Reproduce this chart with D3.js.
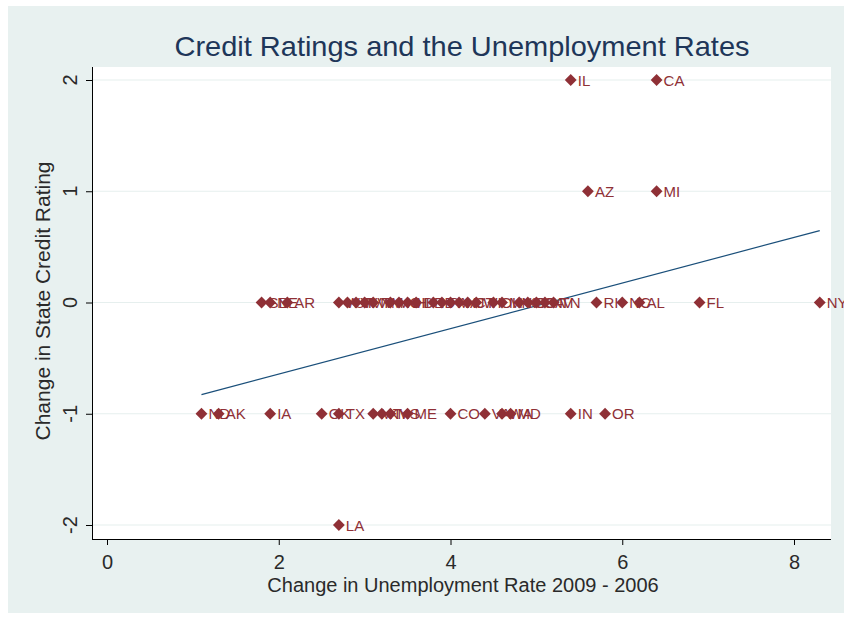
<!DOCTYPE html>
<html><head><meta charset="utf-8">
<script src="https://cdn.jsdelivr.net/npm/d3@7"></script>
<style>html,body{margin:0;padding:0;background:#fff;}svg{display:block;}</style>
</head><body>
<script>
// ---- data ----
const states = ["IL","CA","AZ","MI","LA",
  "ND","AK","IA","OK","TX","MT","KY","MS","ME","CO","VA","WA","MD","IN","OR",
  "SD","NE","AR","WY","UT","WV","VT","NM","MO","NH","HI","DE","ID","PA","MA","NJ","CT","WI","OH","MN","KS","SC","GA","NV","TN","RI","NC","AL","FL","NY"];
const unempChange = [5.4,6.4,5.6,6.4,2.7,
  1.1,1.3,1.9,2.5,2.7,3.1,3.2,3.3,3.5,4.0,4.4,4.6,4.7,5.4,5.8,
  1.8,1.9,2.1,2.7,2.8,2.9,3.0,3.1,3.3,3.4,3.5,3.6,3.8,3.9,4.0,4.1,4.2,4.3,4.5,4.6,4.8,4.9,5.0,5.1,5.2,5.7,6.0,6.2,6.9,8.3];
const ratingChange = [2,2,1,1,-2,
  -1,-1,-1,-1,-1,-1,-1,-1,-1,-1,-1,-1,-1,-1,-1,
  0,0,0,0,0,0,0,0,0,0,0,0,0,0,0,0,0,0,0,0,0,0,0,0,0,0,0,0,0,0];
const xTicks = [0,2,4,6,8];
const yTicks = [-2,-1,0,1,2];
const title = "Credit Ratings and the Unemployment Rates";
const xTitle = "Change in Unemployment Rate 2009 - 2006";
const yTitle = "Change in State Credit Rating";

const W = 844, H = 619;
const svg = d3.select("body").append("svg").attr("width", W).attr("height", H);
const font = "'Liberation Sans', Arial, sans-serif";
const maroon = "#8f3036";
const txt = "#2a2a2a";

svg.append("rect").attr("x", 8).attr("y", 6).attr("width", W - 8).attr("height", 607).attr("fill", "#e8f1f0");
const plotL = 92, plotR = 831, plotT = 67, plotB = 539;
svg.append("rect").attr("x", plotL).attr("y", plotT).attr("width", plotR - plotL).attr("height", plotB - plotT).attr("fill", "#fff");

const x = d3.scaleLinear().domain([0, 8]).range([107, 794]);
const y = d3.scaleLinear().domain([-2, 2]).range([525, 80]);

// grid
svg.append("g").selectAll("line").data(yTicks).join("line")
  .attr("x1", plotL).attr("x2", plotR).attr("y1", d => y(d)).attr("y2", d => y(d))
  .attr("stroke", "#e6efee").attr("stroke-width", 1.2);

// axes
const yAxis = svg.append("g").attr("transform", `translate(${plotL},0)`)
  .call(d3.axisLeft(y).tickValues(yTicks).tickSize(6).tickFormat(() => ""));
yAxis.select(".domain").attr("d", `M0.5,${plotT}V${plotB}`).attr("stroke", "#000");
yAxis.selectAll(".tick line").attr("stroke", "#000");
svg.append("g").selectAll("text").data(yTicks).join("text")
  .attr("transform", d => `translate(77,${y(d)}) rotate(-90)`)
  .attr("text-anchor", "middle").attr("font-family", font).attr("font-size", 20).attr("fill", txt)
  .text(d => String(d));

const xAxis = svg.append("g").attr("transform", `translate(0,${plotB})`)
  .call(d3.axisBottom(x).tickValues(xTicks).tickSize(6).tickPadding(10).tickFormat(d => String(d)));
xAxis.select(".domain").attr("d", `M${plotL},0.5H${plotR}`).attr("stroke", "#000");
xAxis.selectAll(".tick line").attr("stroke", "#000");
xAxis.selectAll(".tick text").attr("font-family", font).attr("font-size", 20).attr("fill", txt);

// regression line (OLS from the data)
const n = states.length;
const mx = d3.mean(unempChange), my = d3.mean(ratingChange);
let sxy = 0, sxx = 0;
for (let i = 0; i < n; i++) { sxy += (unempChange[i] - mx) * (ratingChange[i] - my); sxx += (unempChange[i] - mx) ** 2; }
const b = sxy / sxx, a = my - b * mx;
const [xmin, xmax] = d3.extent(unempChange);
svg.append("path").datum([xmin, xmax])
  .attr("d", d3.line().x(d => x(d)).y(d => y(a + b * d)))
  .attr("stroke", "#1a4f7a").attr("stroke-width", 1.2).attr("fill", "none");

// points
const pts = d3.range(n).map(i => ({s: states[i], xv: unempChange[i], yv: ratingChange[i]}));
const g = svg.append("g");
const sym = d3.symbol(d3.symbolSquare, 70);
pts.forEach(d => {
  g.append("path").attr("d", sym()).attr("fill", maroon)
    .attr("transform", `translate(${x(d.xv)},${y(d.yv)}) rotate(45)`);
  g.append("text").attr("x", x(d.xv) + 7).attr("y", y(d.yv) + 5.5)
    .attr("font-family", font).attr("font-size", 15).attr("fill", maroon).text(d.s);
});

// titles
svg.append("text").attr("x", 462).attr("y", 56).attr("text-anchor", "middle")
  .attr("font-family", font).attr("font-size", 28).attr("textLength", 575).attr("lengthAdjust", "spacingAndGlyphs")
  .attr("fill", "#1e3659").text(title);
svg.append("text").attr("x", 463).attr("y", 592).attr("text-anchor", "middle")
  .attr("font-family", font).attr("font-size", 20).attr("fill", txt).text(xTitle);
svg.append("text").attr("transform", "translate(50,301) rotate(-90)").attr("text-anchor", "middle")
  .attr("font-family", font).attr("font-size", 21).attr("fill", txt).text(yTitle);
</script>
</body></html>
